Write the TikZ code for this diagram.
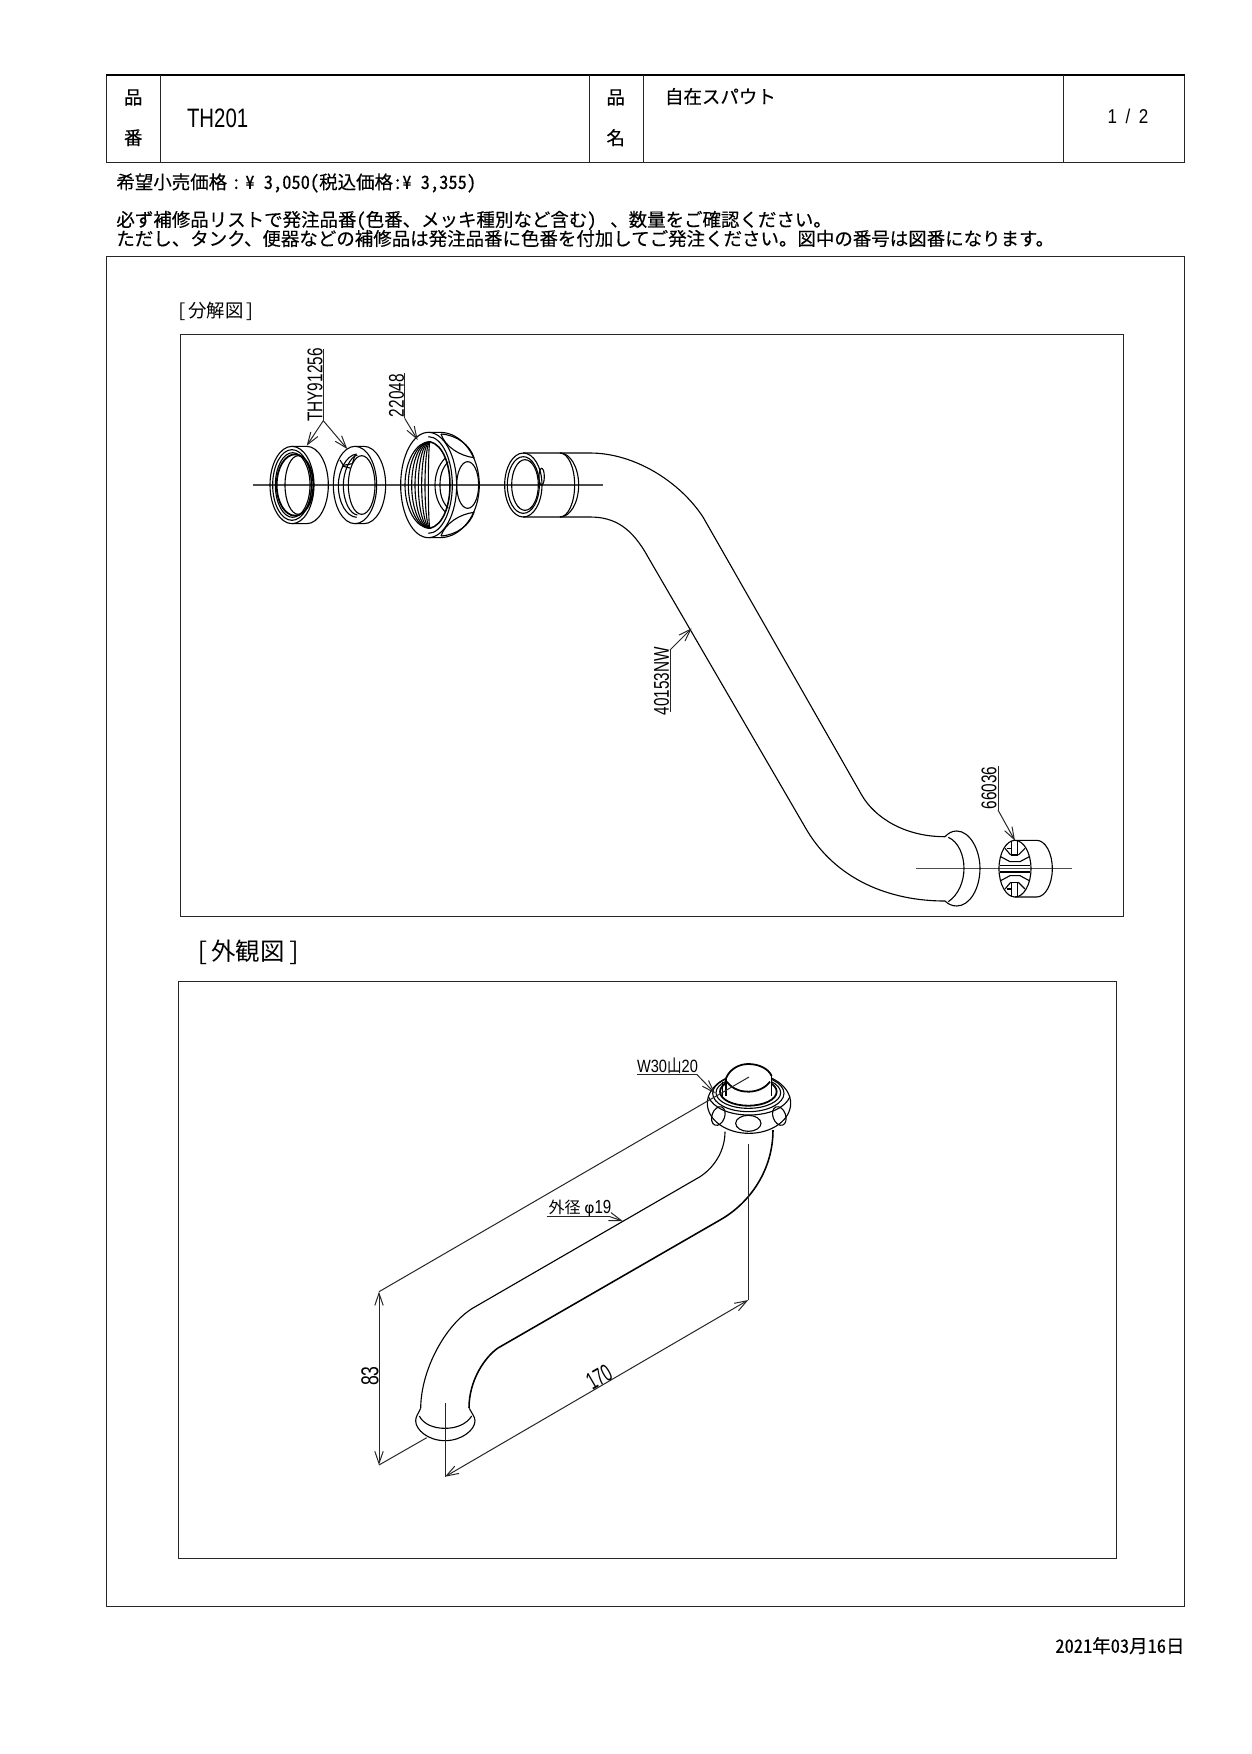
\documentclass[tikz,border=0pt]{standalone}
\usepackage{fontspec}
\usepackage{graphicx}
\setmainfont{Liberation Sans}
\newfontfamily\jp[RawFeature=+hwid]{Noto Sans CJK JP}
\newfontfamily\jpb[RawFeature=+hwid,FakeBold=0.25]{Noto Sans CJK JP}
\usetikzlibrary{arrows.meta}
\newcommand\cadtext[3]{\scalebox{#1}[1]{\fontsize{#2}{#2}\selectfont #3}}
\newcommand\jptext[1]{{\jpb\fontsize{8.31pt}{8.31pt}\selectfont #1}}
\tikzset{
  frame/.style={line width=.45pt,black!85},
  heavy/.style={line width=1.1pt,black},
  part/.style={line width=.5pt,black},
  axisline/.style={line width=.6pt,black!70},
  leader/.style={line width=.45pt,black!85},
  arrowed/.style={leader,-{Straight Barb[length=5.5pt,width=3.8pt]}},
  both/.style={leader,{Straight Barb[length=5.5pt,width=3.8pt]}-{Straight Barb[length=5.5pt,width=3.8pt]}},
  label/.style={inner sep=0pt,outer sep=0pt},
  zA/.style={shift={(240,340)},x=.15pt,y=-.15pt},
  zB/.style={shift={(620,500)},x=.15pt,y=-.15pt},
  zC/.style={shift={(620,1040)},x=.15pt,y=-.15pt},
  zD/.style={shift={(360,1270)},x=.15pt,y=-.15pt},
}
\begin{document}
\begin{tikzpicture}[x=.45pt,y=-.45pt]
\useasboundingbox (0,0) rectangle (1252,1754);
\fill[white] (0,0) rectangle (1252,1754);
% header table
\draw[frame] (106.4,75) rectangle (1184.6,162.3);
\draw[heavy] (106.4,75) -- (1184.6,75);
\draw[frame] (160,75) -- (160,162.3) (589,75) -- (589,162.3) (643.7,75) -- (643.7,162.3) (1063.5,75) -- (1063.5,162.3);
\node[label] (h1) at (133.2,97.4) {\jptext{品}};
\node[label] (h2) at (133.2,137.7) {\jptext{番}};
\node[label] (h3) at (615.7,97.4) {\jptext{品}};
\node[label] (h4) at (615.7,137.7) {\jptext{名}};
\node[label,anchor=west] (code) at (187,118) {\cadtext{.765}{12pt}{TH201}};
\node[label,anchor=west] (name) at (665,96.5) {\jptext{自在スパウト}};
\node[label] (page) at (1128,116.5) {\cadtext{.85}{9pt}{1\,\,\,/\,\,\,2}};
% notes
\node[label,anchor=west] (price) at (116.4,183) {\jptext{希望小売価格\hspace{2pt}:\hspace{2pt}¥ 3,050(税込価格:¥ 3,355)}};
\node[label,anchor=west] (note1) at (116.4,220.5) {\jptext{必ず補修品リストで発注品番(色番、メッキ種別など含む) \hspace{2pt}、数量をご確認ください。}};
\node[label,anchor=west] (note2) at (116.4,238.5) {\jptext{ただし、タンク、便器などの補修品は発注品番に色番を付加してご発注ください。図中の番号は図番になります。}};
% frames
\draw[frame] (106.4,256.4) rectangle (1184.6,1606.5);
\draw[frame] (180,334.7) rectangle (1123,916);
\draw[frame] (178,981.8) rectangle (1116,1558.5);
\node[label,anchor=west] (t1) at (177,311.5) {{\jp\fontsize{8.28pt}{8.28pt}\selectfont [\hspace{1pt}分解図\hspace{1pt}]}};
\node[label,anchor=west] (t2) at (196,952.5) {{\jp\fontsize{11pt}{11pt}\selectfont [\hspace{1.5pt}外観図\hspace{1.5pt}]}};
\node[label,anchor=east] (date) at (1184.5,1645.7) {{\jpb\fontsize{8.3pt}{8.3pt}\selectfont 2021年03月16日}};

% ---- exploded view
\draw[axisline] (252.7,485) -- (602.7,485);
\draw[axisline] (916,868.7) -- (1071.7,868.7);
\begin{scope}[zA,part]
  % ring 1
  \draw (156,435) ellipse [x radius=66,y radius=116];
  \draw (156,319) -- (200,319) arc[start angle=-90,end angle=90,x radius=65,y radius=116] -- (156,551);
  \draw (156,435) ellipse [x radius=58,y radius=106];
  \draw (158,435) ellipse [x radius=52,y radius=97];
  \draw[line width=.8pt] (165,435) ellipse [x radius=55,y radius=92];
  \draw (175,435) ellipse [x radius=40,y radius=88];
  % ring 2
  \draw (345,435) ellipse [x radius=65,y radius=116];
  \draw (345,319) -- (372,319) arc[start angle=-90,end angle=90,x radius=65,y radius=116] -- (345,551);
  \draw (350,342) .. controls (318,345) and (295,395) .. (295,435) .. controls (295,490) and (320,530) .. (350,532);
  \draw (352,345) .. controls (330,350) and (310,395) .. (310,435) .. controls (310,485) and (330,522) .. (352,525);
  \draw (365,435) ellipse [x radius=40,y radius=88];
  \draw (300,360) -- (310,376) -- (337,371) -- (345,345);
  \draw (306,378) -- (330,384);
  % nut
  \draw (565,277) -- (600,277) arc[start angle=-90,end angle=90,x radius=118,y radius=158] -- (565,593)
        arc[start angle=90,end angle=270,x radius=83,y radius=158];
  \draw (565,277) arc[start angle=-90,end angle=90,x radius=85,y radius=158];
  \draw (565,290) arc[start angle=-90,end angle=90,x radius=72,y radius=145];
  \draw (603,282) .. controls (650,285) and (690,315) .. (702,353) .. controls (660,348) and (615,320) .. (603,282);
  \draw (603,588) .. controls (650,585) and (690,555) .. (702,517) .. controls (660,522) and (615,550) .. (603,588);
  \draw (683,435) ellipse [x radius=33,y radius=70];
  \foreach \r in {75,65,55,45,35,25,15,5}{
    \draw (570,305) arc[start angle=-90,end angle=-270,x radius=\r,y radius=130];
  }
  \draw[line width=.7pt] (570,305) .. controls (610,315) and (630,375) .. (630,435) .. controls (630,495) and (610,555) .. (570,565);
  \draw (615,355) .. controls (595,375) and (585,405) .. (585,435) .. controls (585,465) and (595,495) .. (615,515);
  \draw (625,365) .. controls (605,385) and (600,410) .. (600,435) .. controls (600,460) and (605,485) .. (625,505);
  % pipe end
  \draw (850,435) ellipse [x radius=56,y radius=96];
  \draw (850,435) ellipse [x radius=48,y radius=85];
  \draw (855,435) ellipse [x radius=40,y radius=76];
  \draw (897,410) arc[start angle=180,end angle=540,x radius=8,y radius=25];
  \draw (960,339) arc[start angle=-90,end angle=90,x radius=56,y radius=96];
  \draw (960,339) arc[start angle=-90,end angle=90,x radius=44,y radius=96];
\end{scope}
% pipe
\draw[part] (523,453) -- (590,453) .. controls (635,453) and (680,482) .. (703,517) -- (861.7,795)
  .. controls (875,818) and (905,836.7) .. (945,836.7);
\draw[part] (523,517) -- (590,517) .. controls (615,517) and (632,528) .. (648,557) -- (805,827)
  .. controls (835,880) and (890,901) .. (945,901);
\begin{scope}[zB,part]
  \draw (975,1010) .. controls (985,1000) and (995,993) .. (1010,993) .. controls (1050,993) and (1080,1050) .. (1080,1105)
    .. controls (1080,1165) and (1050,1218) .. (1010,1218) .. controls (995,1218) and (985,1212) .. (975,1203);
  \draw (985,1012) .. controls (1015,1025) and (1032,1065) .. (1032,1105) .. controls (1032,1145) and (1015,1185) .. (985,1205);
  % bush 66036
  \draw (1185,1106) ellipse [x radius=48,y radius=85];
  \draw (1185,1021) -- (1250,1021) arc[start angle=-90,end angle=90,x radius=47,y radius=85] -- (1185,1191);
  \draw[line width=.7pt] (1139,1096) -- (1231,1096) (1139,1116) -- (1231,1116);
  \foreach \s in {1,-1}{
    \draw (1175,{1106-\s*83}) -- (1175,{1106-\s*41}) -- (1192,{1106-\s*41}) -- (1192,{1106-\s*83});
    \draw (1155,{1106-\s*61}) -- (1172,{1106-\s*41}) (1215,{1106-\s*61}) -- (1195,{1106-\s*41});
    \draw (1142,{1106-\s*36}) -- (1170,{1106-\s*21}) -- (1200,{1106-\s*21}) -- (1228,{1106-\s*36});
    \draw (1162,{1106-\s*61}) -- (1175,{1106-\s*61});
  }
\end{scope}
% labels of exploded view
\coordinate (thyEnd) at (323.3,420.7);
\draw[leader] (323.3,349) -- (thyEnd);
\draw[arrowed] (thyEnd) -- (306.7,445.7);
\draw[arrowed] (thyEnd) -- (347.3,449);
\node[label,rotate=90] (thy) at (315,385) {\cadtext{.72}{9.6pt}{THY91256}};
\draw[leader] (404.7,373.3) -- (404.7,418.3);
\draw[arrowed] (404.7,418.3) -- (417.7,440);
\node[label,rotate=90] (n22048) at (396.5,395.7) {\cadtext{.72}{9.6pt}{22048}};
\draw[leader] (670,650) -- (670,712.3);
\draw[arrowed] (670,650) -- (691.7,628.3);
\node[label,rotate=90] (n40153) at (661.5,681) {\cadtext{.72}{9.6pt}{40153NW}};
\draw[leader] (998,765.7) -- (998,810);
\draw[arrowed] (998,810) -- (1015,840.7);
\node[label,rotate=90] (n66036) at (989,788) {\cadtext{.72}{9.6pt}{66036}};

% ---- assembled view
\draw[part] (473,1308) -- (700,1176.7) .. controls (715,1167) and (725,1150) .. (725,1131.7);
\draw[part,line width=.7pt] (498,1348) -- (720,1220) .. controls (750,1203) and (773,1170) .. (773,1130);
\draw[part] (473,1308) .. controls (445,1325) and (421,1370) .. (420.7,1408);
\draw[part,line width=.7pt] (498,1348) .. controls (485,1357) and (469,1380) .. (469,1408);
\begin{scope}[zD,part]
  \draw (182,415) .. controls (175,430) and (167,440) .. (167,452) .. controls (167,480) and (205,512) .. (255,512)
     .. controls (305,512) and (345,480) .. (345,452) .. controls (345,440) and (335,430) .. (328,415);
  \draw (178,438) .. controls (190,462) and (220,475) .. (255,475) .. controls (290,475) and (320,462) .. (335,438);
\end{scope}
\begin{scope}[zC,part]
  \fill[white] (387,190) ellipse [x radius=125,y radius=90];
  \draw (387,190) ellipse [x radius=125,y radius=90];
  \draw (265,170) .. controls (280,205) and (330,225) .. (387,225) .. controls (445,225) and (495,205) .. (510,170);
  \draw (385,160) ellipse [x radius=107,y radius=55];
  \draw (385,158) ellipse [x radius=97,y radius=47];
  \draw[line width=.8pt] (385,155) ellipse [x radius=85,y radius=42];
  \fill[white] (318,115) .. controls (330,85) and (360,72) .. (385,72) .. controls (415,72) and (445,85) .. (455,110) -- (455,165) -- (318,165) -- cycle;
  \draw[line width=.8pt] (318,115) .. controls (330,85) and (360,72) .. (385,72) .. controls (415,72) and (445,85) .. (455,108);
  \draw (318,115) -- (318,168) (455,108) -- (455,168) (308,125) -- (308,170);
  \draw[line width=.8pt] (320,125) .. controls (340,150) and (365,155) .. (385,155) .. controls (410,155) and (435,145) .. (450,125);
  \draw (385,250) ellipse [x radius=38,y radius=24];
  \draw[rotate around={-20:(295,228)}] (295,228) ellipse [x radius=19,y radius=29];
  \draw[rotate around={20:(478,228)}] (478,228) ellipse [x radius=19,y radius=29];
\end{scope}
% dimensions
\coordinate (dimTop) at (379,1291.7);
\coordinate (dimBot) at (379,1465);
\coordinate (lenA) at (445,1476.7);
\coordinate (lenB) at (748.3,1300);
\draw[both] (dimTop) -- (dimBot);
\draw[leader] (dimTop) -- (749,1077);
\draw[leader] (dimBot) -- (426.7,1437.7);
\draw[leader] (445,1402.7) -- (lenA);
\draw[leader] (748.3,1144) -- (lenB);
\draw[both] (lenA) -- (lenB);
\node[label,rotate=90] (dim83) at (370,1376) {\cadtext{.72}{11pt}{83}};
\node[label,rotate=30] (dim170) at (599,1377) {\cadtext{.62}{11pt}{170}};
\draw[leader] (546.7,1216.7) -- (610,1216.7);
\draw[arrowed] (610,1216.7) -- (622.7,1221);
\node[label] (dia) at (580,1208) {{\jp\fontsize{7.2pt}{7.2pt}\selectfont 外径}\,{\fontspec{DejaVu Sans}\fontsize{7pt}{7pt}\selectfont φ}\cadtext{.8}{8.5pt}{19}};
\draw[leader] (637.3,1074.3) -- (696.7,1074.3);
\draw[arrowed] (696.7,1074.3) -- (715,1093.3);
\node[label] (thread) at (667.5,1066) {\cadtext{.82}{8pt}{W30{\jp 山}20}};
\end{tikzpicture}
\end{document}
